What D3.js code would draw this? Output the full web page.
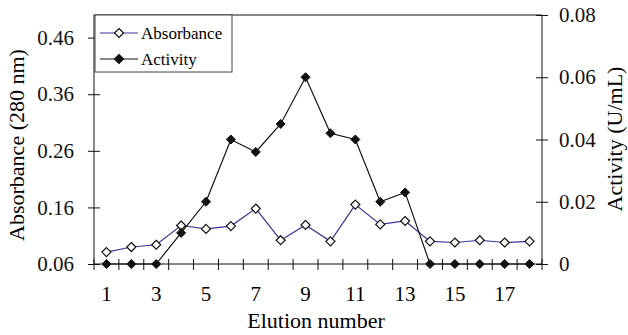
<!DOCTYPE html>
<html>
<head>
<meta charset="utf-8">
<script src="https://cdn.jsdelivr.net/npm/d3@7"></script>
<style>
  body { margin: 0; background: #fff; }
</style>
</head>
<body>
<div id="chart"></div>
<script>
// elution fractions
const fractions = d3.range(1, 19);
const absorbance = [0.081, 0.090, 0.094, 0.128, 0.122, 0.127, 0.158, 0.102, 0.129,
  0.100, 0.165, 0.130, 0.136, 0.100, 0.098, 0.102, 0.098, 0.100];
const activity = [0, 0, 0, 0.010, 0.020, 0.040, 0.036, 0.045, 0.060,
  0.042, 0.040, 0.020, 0.023, 0, 0, 0, 0, 0];
const leftTicks = [0.06, 0.16, 0.26, 0.36, 0.46];
const rightTicks = [0, 0.02, 0.04, 0.06, 0.08];
const xLabels = [1, 3, 5, 7, 9, 11, 13, 15, 17];

const FONT = "Liberation Serif, DejaVu Serif";
const W = 628, H = 335;
const margin = { top: 15, right: 86, bottom: 71, left: 94 };
const width = W - margin.left - margin.right,
  height = H - margin.top - margin.bottom;

const svg = d3.select('#chart').append('svg')
  .attr('width', W).attr('height', H);
const g = svg.append('g').attr('transform', `translate(${margin.left},${margin.top})`);

const x = d3.scaleBand().domain(fractions).range([0, width]);
const yL = d3.scaleLinear().domain([0.06, 0.5]).range([height, 0]);
const yR = d3.scaleLinear().domain([0, 0.08]).range([height, 0]);

// frame top line
g.append('line').attr('x1', 0).attr('x2', width).attr('y1', 0).attr('y2', 0)
  .attr('stroke', '#111').attr('stroke-width', 1);

// left axis
const leftAxis = g.append('g')
  .call(d3.axisLeft(yL).tickValues(leftTicks).tickFormat(d3.format('.2f')).tickSize(6).tickPadding(14));
leftAxis.selectAll('.tick line').attr('x2', 6).attr('x1', -6);
leftAxis.select('.domain').attr('d', `M0,0V${height}`);

// right axis
const rightAxis = g.append('g').attr('transform', `translate(${width},0)`)
  .call(d3.axisRight(yR).tickValues(rightTicks)
    .tickFormat(d => d === 0 ? '0' : d3.format('.2f')(d)).tickSize(6).tickPadding(11));
rightAxis.selectAll('.tick line').attr('x1', -6).attr('x2', 6);
rightAxis.select('.domain').attr('d', `M0,0V${height}`);

// bottom axis: ticks on category boundaries, labels on odd fractions
const xb = g.append('g').attr('transform', `translate(0,${height})`);
xb.append('line').attr('x1', 0).attr('x2', width).attr('stroke', '#111');
xb.selectAll('.bt').data(fractions.concat([19]))
  .join('line').attr('class', 'bt')
  .attr('x1', d => d === 19 ? width : x(d)).attr('x2', d => d === 19 ? width : x(d))
  .attr('y1', -5).attr('y2', 6).attr('stroke', '#111');
xb.selectAll('.bl').data(xLabels).join('text').attr('class', 'bl')
  .attr('x', d => x(d) + x.bandwidth() / 2).attr('y', 37)
  .attr('text-anchor', 'middle').style('font-size', '21px').text(d => d);

[leftAxis, rightAxis].forEach(a => {
  a.selectAll('path, line').attr('stroke', '#111');
  a.selectAll('text').style('font-size', '21px').attr('fill', '#111');
});

const cx = d => x(d) + x.bandwidth() / 2;
const diamond = d3.symbol().type(d3.symbolDiamond2).size(52);

// absorbance line
const absData = fractions.map((f, i) => ({ f, v: absorbance[i] }));
g.append('path').datum(absData)
  .attr('fill', 'none').attr('stroke', '#3b3596').attr('stroke-width', 1.2)
  .attr('d', d3.line().x(d => cx(d.f)).y(d => yL(d.v)));

// activity line
const actData = fractions.map((f, i) => ({ f, v: activity[i] }));
g.append('path').datum(actData)
  .attr('fill', 'none').attr('stroke', '#111').attr('stroke-width', 1.2)
  .attr('d', d3.line().x(d => cx(d.f)).y(d => yR(d.v)));

g.selectAll('.pa').data(absData).join('path').attr('class', 'pa')
  .attr('transform', d => `translate(${cx(d.f)},${yL(d.v)})`)
  .attr('d', diamond).attr('fill', '#fff').attr('stroke', '#111').attr('stroke-width', 1.2);

g.selectAll('.pb').data(actData).join('path').attr('class', 'pb')
  .attr('transform', d => `translate(${cx(d.f)},${yR(d.v)})`)
  .attr('d', diamond).attr('fill', '#111').attr('stroke', '#111').attr('stroke-width', 1);

// legend
const lg = g.append('g').attr('transform', 'translate(1,0)');
lg.append('rect').attr('width', 137).attr('height', 57)
  .attr('fill', '#fff').attr('stroke', '#444').attr('stroke-width', 1);
const legendItems = [
  { name: 'Absorbance', color: '#3b3596', fill: '#fff' },
  { name: 'Activity', color: '#111', fill: '#111' }
];
legendItems.forEach((it, i) => {
  const yy = 18 + i * 26;
  lg.append('line').attr('x1', 5).attr('x2', 43).attr('y1', yy).attr('y2', yy)
    .attr('stroke', it.color).attr('stroke-width', 1.2);
  lg.append('path').attr('transform', `translate(24,${yy})`).attr('d', diamond)
    .attr('fill', it.fill).attr('stroke', '#111').attr('stroke-width', 1.2);
  lg.append('text').attr('x', 46).attr('y', yy + 6).style('font-size', '17px').text(it.name);
});

// axis titles
svg.append('text').attr('transform', `translate(24,145) rotate(-90)`)
  .attr('text-anchor', 'middle').style('font-size', '22px').text('Absorbance (280 nm)');
svg.append('text').attr('transform', `translate(622,139) rotate(-90)`)
  .attr('text-anchor', 'middle').style('font-size', '22px').text('Activity (U/mL)');
svg.append('text').attr('x', 316).attr('y', 328)
  .attr('text-anchor', 'middle').style('font-size', '22px').text('Elution number');

// one serif face on every label
svg.selectAll('text').attr('font-family', FONT);
svg.selectAll('g').attr('font-family', null);
</script>
</body>
</html>
